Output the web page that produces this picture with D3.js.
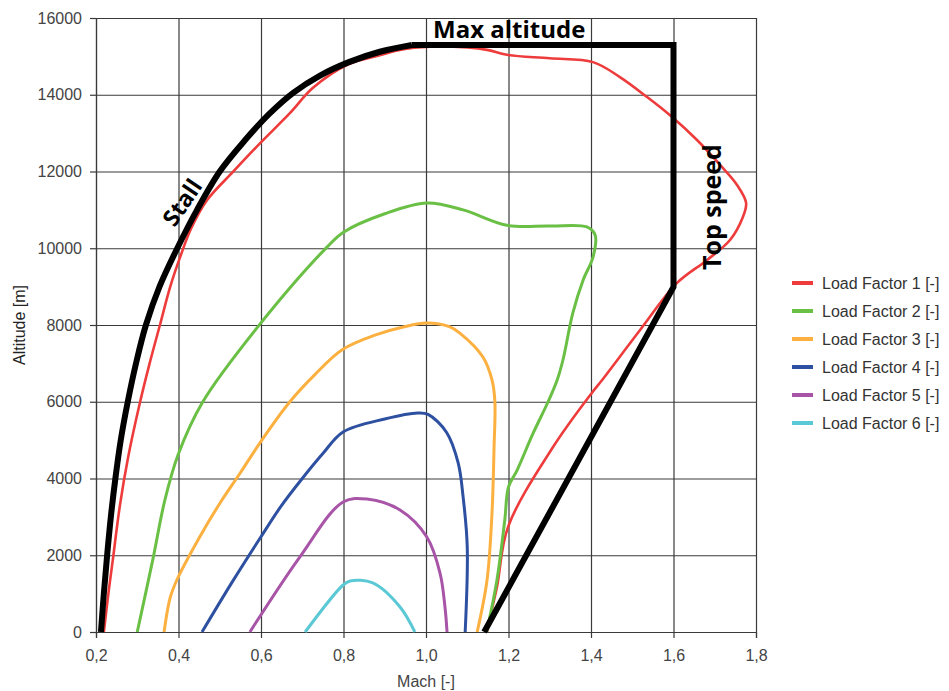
<!DOCTYPE html>
<html>
<head>
<meta charset="utf-8">
<script src="https://cdn.jsdelivr.net/npm/d3@7"></script>
<style>
  body { margin: 0; background: #fff; }
  svg { display: block; }
  .tick text { font-family: "Liberation Sans", Arial, sans-serif; font-size: 16px; fill: #444; }
  .note { font-family: "Open Sans", sans-serif; font-weight: bold; font-size: 24px; fill: #000; }
</style>
</head>
<body>
<svg id="chart" width="949" height="691"></svg>
<script>
const xTicks = [0.2, 0.4, 0.6, 0.8, 1.0, 1.2, 1.4, 1.6, 1.8];
const yTicks = [0, 2000, 4000, 6000, 8000, 10000, 12000, 14000, 16000];

const seriesNames = [
	"Load Factor 1 [-]", "Load Factor 2 [-]", "Load Factor 3 [-]",
	"Load Factor 4 [-]", "Load Factor 5 [-]", "Load Factor 6 [-]",
];
const seriesColors = ["#ee3b3b", "#6abf45", "#fbb040", "#2e50a0", "#a855a8", "#5bc8d5"];

// [mach, altitude m]
const lf1 = [[0.219, 0], [0.23, 1000], [0.241, 1900], [0.258, 3300], [0.278, 4560], [0.307, 6000],
	[0.33, 7000], [0.355, 8000], [0.38, 9000], [0.405, 9800], [0.43, 10500], [0.469, 11250],
	[0.532, 11990], [0.598, 12740], [0.67, 13520], [0.726, 14180],
	[0.813, 14800], [0.888, 15030], [0.937, 15170], [1.01, 15250], [1.1, 15230], [1.148, 15170],
	[1.196, 15040], [1.3, 14950], [1.405, 14850], [1.47, 14460], [1.536, 13940], [1.591, 13470],
	[1.657, 12820], [1.713, 12170], [1.754, 11650], [1.776, 11180], [1.768, 10810], [1.737, 10215],
	[1.681, 9690], [1.608, 9090], [1.519, 7870], [1.427, 6567], [1.402, 6230], [1.308, 4820],
	[1.199, 2740], [1.172, 1170], [1.15, 130], [1.148, 0]];
const lf2 = [[0.3, 0], [0.338, 1900], [0.367, 3440], [0.399, 4620], [0.459, 6000], [0.598, 8030],
	[0.76, 10030], [0.8, 10420], [0.9, 10900], [1.002, 11180], [1.09, 11000], [1.196, 10600],
	[1.3, 10580], [1.39, 10554], [1.41, 10345], [1.405, 9772], [1.381, 9173], [1.356, 8313],
	[1.332, 7088], [1.318, 6567], [1.296, 6000], [1.26, 5186], [1.221, 4221], [1.2, 3778],
	[1.191, 2919], [1.172, 1355], [1.147, 0]];
const lf3 = [[0.365, 0], [0.38, 900], [0.396, 1355], [0.45, 2450], [0.5, 3350], [0.55, 4150],
	[0.6, 4970], [0.67, 6000], [0.73, 6700], [0.796, 7350], [0.88, 7750], [0.945, 7950],
	[1.002, 8050], [1.058, 7950], [1.082, 7790], [1.138, 7166], [1.16, 6567], [1.167, 6000],
	[1.165, 4821], [1.16, 3100], [1.148, 1355], [1.124, 0]];
const lf4 = [[0.457, 0], [0.53, 1300], [0.598, 2450], [0.65, 3300], [0.7, 4000], [0.75, 4650],
	[0.799, 5212], [0.9, 5550], [0.98, 5707], [1.005, 5670], [1.05, 5200], [1.078, 4404],
	[1.09, 3518], [1.1, 2215], [1.095, 0]];
const lf5 = [[0.573, 0], [0.694, 1954], [0.799, 3388], [0.857, 3466], [0.937, 3179], [1.002, 2476],
	[1.034, 1537], [1.046, 651], [1.051, 0]];
const lf6 = [[0.707, 0], [0.799, 1225], [0.816, 1330], [0.871, 1277], [0.937, 651], [0.973, 0]];
const loadFactors = [lf1, lf2, lf3, lf4, lf5, lf6];

const stallLine = [[0.212, 0], [0.219, 1000], [0.227, 2000], [0.236, 3000], [0.247, 4000],
	[0.26, 5000], [0.277, 6000], [0.297, 7000], [0.321, 8000], [0.354, 9000], [0.397, 10000],
	[0.445, 11000], [0.5, 12000], [0.56, 12800], [0.62, 13500], [0.678, 14050], [0.743, 14500],
	[0.813, 14850], [0.888, 15120], [0.966, 15296]];
const limitLine = [[0.966, 15296], [1.6, 15296], [1.6, 8990], [1.141, 0]];

const svg = d3.select("#chart");
const margin = { top: 18, left: 96 };
const plotW = 660;
const plotH = 614;

const x = d3.scaleLinear().domain([0.2, 1.8]).range([margin.left, margin.left + plotW]);
const y = d3.scaleLinear().domain([0, 16000]).range([margin.top + plotH, margin.top]);

const commaFmt = (d) => d3.format(".1f")(d).replace(".", ",");

// grid
svg.append("g")
	.attr("transform", `translate(0, ${margin.top + plotH})`)
	.call(d3.axisBottom(x).tickValues(xTicks).tickSize(-plotH).tickFormat(""))
	.call((g) => g.select(".domain").remove())
	.selectAll("line").attr("stroke", "#3a3a3a").attr("stroke-width", 1.2);

svg.append("g")
	.attr("transform", `translate(${margin.left}, 0)`)
	.call(d3.axisLeft(y).tickValues(yTicks).tickSize(-plotW).tickFormat(""))
	.call((g) => g.select(".domain").remove())
	.selectAll("line").attr("stroke", "#3a3a3a").attr("stroke-width", 1.2);

// axes with short outer ticks
const xAxis = svg.append("g")
	.attr("transform", `translate(0, ${margin.top + plotH})`)
	.call(d3.axisBottom(x).tickValues(xTicks).tickSize(6).tickPadding(12).tickFormat(commaFmt));
xAxis.select(".domain").attr("stroke", "#3a3a3a").attr("stroke-width", 1.2);
xAxis.selectAll("line").attr("stroke", "#3a3a3a").attr("stroke-width", 1.2);

const yAxis = svg.append("g")
	.attr("transform", `translate(${margin.left}, 0)`)
	.call(d3.axisLeft(y).tickValues(yTicks).tickSize(6).tickPadding(8).tickFormat(d3.format("d")));
yAxis.select(".domain").attr("stroke", "#3a3a3a").attr("stroke-width", 1.2);
yAxis.selectAll("line").attr("stroke", "#3a3a3a").attr("stroke-width", 1.2);

svg.append("text")
	.attr("x", margin.left + plotW / 2)
	.attr("y", 687)
	.attr("text-anchor", "middle")
	.style("font-family", "Liberation Sans, Arial, sans-serif")
	.style("font-size", "16px")
	.attr("fill", "#444")
	.text("Mach [-]");

svg.append("text")
	.attr("transform", `translate(25, ${margin.top + plotH / 2}) rotate(-90)`)
	.attr("text-anchor", "middle")
	.style("font-family", "Liberation Sans, Arial, sans-serif")
	.style("font-size", "16px")
	.attr("fill", "#222")
	.text("Altitude [m]");

// curves
const curveGen = d3.line()
	.x((d) => x(d[0]))
	.y((d) => y(d[1]))
	.curve(d3.curveCatmullRom.alpha(0.5));

loadFactors.forEach((pts, i) => {
	svg.append("path")
		.datum(pts)
		.attr("d", curveGen)
		.attr("fill", "none")
		.attr("stroke", seriesColors[i])
		.attr("stroke-width", i === 0 ? 2.6 : 3);
});

svg.append("path")
	.datum(stallLine)
	.attr("d", curveGen)
	.attr("fill", "none")
	.attr("stroke", "#000")
	.attr("stroke-width", 6);

svg.append("path")
	.datum(limitLine)
	.attr("d", d3.line().x((d) => x(d[0])).y((d) => y(d[1])))
	.attr("fill", "none")
	.attr("stroke", "#000")
	.attr("stroke-width", 6)
	.attr("stroke-linejoin", "miter");

// annotations
svg.append("text").attr("class", "note").attr("x", 433).attr("y", 38).text("Max altitude");
svg.append("text").attr("class", "note")
	.attr("transform", "translate(189, 207) rotate(-56)")
	.attr("text-anchor", "middle")
	.style("font-size", "23px")
	.text("Stall");
svg.append("text").attr("class", "note")
	.attr("transform", "translate(721, 207) rotate(-90)")
	.attr("text-anchor", "middle")
	.style("font-size", "25px")
	.text("Top speed");

// legend
const legend = svg.append("g").attr("transform", "translate(792, 283)");
seriesNames.forEach((name, i) => {
	const row = legend.append("g").attr("transform", `translate(0, ${i * 28})`);
	row.append("line")
		.attr("x1", 0).attr("x2", 21)
		.attr("stroke", seriesColors[i])
		.attr("stroke-width", 4);
	row.append("text")
		.attr("x", 30)
		.attr("dy", "0.35em")
		.style("font-family", "Liberation Sans, Arial, sans-serif")
		.style("font-size", "16px")
		.attr("fill", "#333")
		.text(name);
});
</script>
</body>
</html>
